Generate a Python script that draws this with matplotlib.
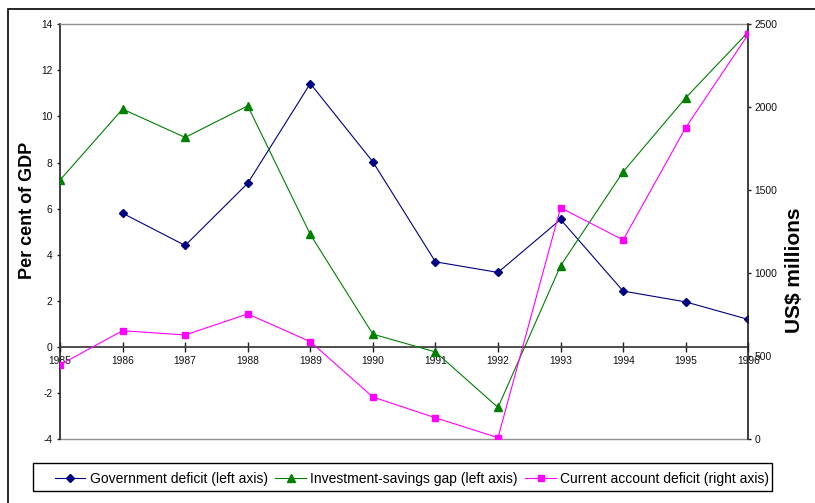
import numpy as np
import matplotlib
matplotlib.use("Agg")
import matplotlib.pyplot as plt
from matplotlib.patches import Rectangle

plt.rcParams["axes.unicode_minus"] = False
plt.rcParams["font.family"] = ["Liberation Sans", "DejaVu Sans"]

# Data
years = [1985, 1986, 1987, 1988, 1989, 1990, 1991, 1992, 1993, 1994, 1995, 1996]
gov_deficit = [np.nan, 5.80, 4.40, 7.10, 11.43, 8.03, 3.69, 3.23, 5.53, 2.42, 1.95, 1.19]
inv_sav_gap = [7.24, 10.32, 9.09, 10.46, 4.88, 0.55, -0.22, -2.63, 3.52, 7.60, 10.81, 13.67]
current_account = [447, 653, 627, 754, 587, 253, 128, 8, 1394, 1200, 1877, 2440]

left_ticks = [-4, -2, 0, 2, 4, 6, 8, 10, 12, 14]
right_ticks = [0, 500, 1000, 1500, 2000, 2500]

fig = plt.figure(figsize=(8.15, 5.03), dpi=100)
ax = fig.add_axes([60 / 815, 64 / 503, 688.3 / 815, 414.7 / 503])
ax2 = ax.twinx()

ax.plot(years, gov_deficit, color="#000080", lw=0.8, marker="D", ms=4,
        label="Government deficit (left axis)", zorder=3)
ax.plot(years, inv_sav_gap, color="#008000", lw=0.8, marker="^", ms=6,
        label="Investment-savings gap (left axis)", zorder=3)
ax2.plot(years, current_account, color="#FF00FF", lw=0.8, marker="s", ms=5,
         label="Current account deficit (right axis)", zorder=3)

ax.set_xlim(1985, 1996)
ax.set_ylim(-4, 14)
ax2.set_ylim(0, 2500)
ax.set_xticks(years)
ax.set_yticks(left_ticks)
ax2.set_yticks(right_ticks)

# spines
ax.spines["bottom"].set_position(("data", 0))
ax.spines["bottom"].set_color("#404040")
ax.spines["bottom"].set_linewidth(1.3)
ax.spines["left"].set_color("#202020")
ax.spines["left"].set_linewidth(1.2)
ax.spines["top"].set_color("#909090")
ax.spines["top"].set_linewidth(1.0)
ax.spines["right"].set_visible(False)
for s in ["left", "top", "bottom"]:
    ax2.spines[s].set_visible(False)
ax2.spines["right"].set_color("#202020")
ax2.spines["right"].set_linewidth(1.2)
ax.axhline(-4, color="#909090", lw=1.0, clip_on=False, zorder=1)

ax.tick_params(axis="x", direction="inout", length=7, width=1, color="#202020",
               labelsize=7.4, pad=3)
ax.tick_params(axis="y", direction="out", length=2.5, width=1, color="#202020",
               labelsize=7.4, pad=3)
ax2.tick_params(axis="y", direction="out", length=2.5, width=1, color="#202020",
                labelsize=7.4, pad=2)
for lab in ax.get_xticklabels() + ax.get_yticklabels() + ax2.get_yticklabels():
    lab.set_color("#111111")

fig.text(27 / 815, 1 - 210 / 503, "Per cent of GDP", rotation=90, ha="center", va="center",
         fontsize=13, fontweight="bold")
fig.text(795 / 815, 1 - 270 / 503, "US$ millions", rotation=90, ha="center", va="center",
         fontsize=15, fontweight="bold")

# outer frame
fig.patches.append(Rectangle((8 / 815, -0.1), 1.2, 1.1 - 9 / 503, transform=fig.transFigure,
                             fill=False, edgecolor="black", lw=1.2))

# legend box and entries
fig.patches.append(Rectangle((33 / 815, 1 - 491 / 503), 739 / 815, 28 / 503,
                             transform=fig.transFigure, fill=False,
                             edgecolor="black", lw=1.0))
h1, l1 = ax.get_legend_handles_labels()
h2, l2 = ax2.get_legend_handles_labels()
leg = fig.legend(h1 + h2, l1 + l2, loc="lower left", ncol=3, mode="expand",
                 bbox_to_anchor=(50 / 815, 1 - 491 / 503, 724 / 815, 28 / 503),
                 prop={"size": 10}, handlelength=2.2, handletextpad=0.3,
                 columnspacing=1.5, frameon=False, borderpad=0.35, borderaxespad=0)

fig.savefig("out.png", dpi=100)
